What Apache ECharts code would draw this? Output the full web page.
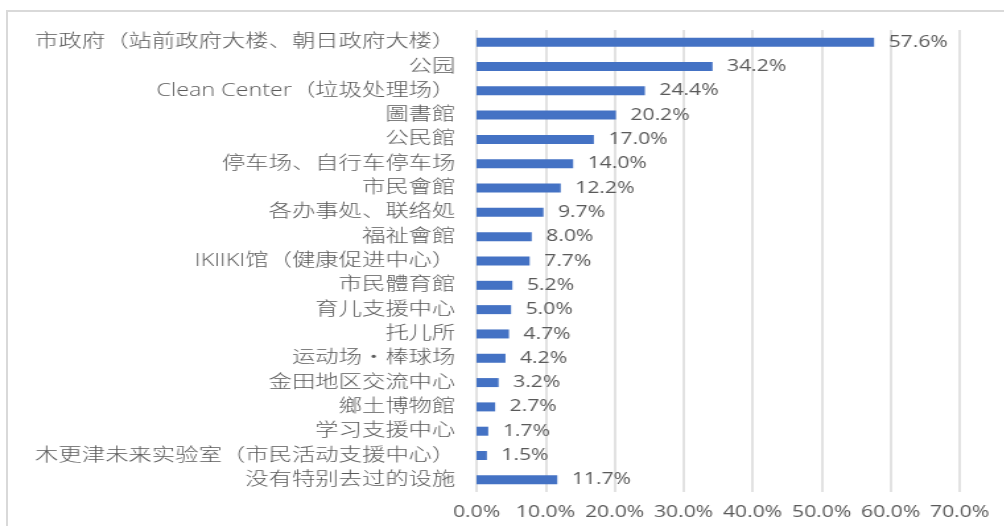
<!DOCTYPE html>
<html>
<head>
<meta charset="utf-8">
<script src="https://cdn.jsdelivr.net/npm/echarts@6/dist/echarts.min.js"></script>
<style>
  html, body { margin: 0; padding: 0; background: #fff; overflow: hidden; }
  #frame {
    position: absolute; left: 6px; top: 10px; width: 1100px; height: 600px;
    border: 2px solid #d9d9d9; box-sizing: border-box;
  }
  /* the reference is horizontally stretched, so render narrower and stretch */
  #chart {
    position: absolute; left: 0; top: 0; width: 761px; height: 526px;
    transform: scaleX(1.32); transform-origin: 0 0;
  }
</style>
</head>
<body>
<div id="frame"></div>
<div id="chart"></div>
<script>
var categories = [
  '市政府（站前政府大楼、朝日政府大楼）',
  '公园',
  'Clean Center（垃圾处理场）',
  '圖書館',
  '公民館',
  '停车场、自行车停车场',
  '市民會館',
  '各办事処、联络処',
  '福祉會館',
  'IKIIKI馆（健康促进中心）',
  '市民體育館',
  '育儿支援中心',
  '托儿所',
  '运动场・棒球场',
  '金田地区交流中心',
  '鄉土博物館',
  '学习支援中心',
  '木更津未来实验室（市民活动支援中心）',
  '没有特别去过的设施'
]
var values = [57.6, 34.2, 24.4, 20.2, 17.0, 14.0, 12.2, 9.7, 8.0, 7.7, 5.2, 5.0, 4.7, 4.2, 3.2, 2.7, 1.7, 1.5, 11.7]

var textColor = '#595959'
var font = '"Open Sans", "Noto Sans CJK SC", sans-serif'
var pct = function(v) { return Number(v).toFixed(1) + '%' }

var chart = echarts.init(document.getElementById('chart'))
chart.setOption({
  animation: false,
  grid: { left: 361, right: 34, top: 30, bottom: 34, containLabel: false },
  xAxis: {
    type: 'value',
    min: 0,
    max: 70,
    interval: 10,
    axisLine: { show: false },
    axisTick: { show: false },
    splitLine: { lineStyle: { color: '#d9d9d9', width: 1.5 } },
    axisLabel: {
      formatter: pct,
      color: textColor,
      fontSize: 16,
      fontFamily: font,
      margin: 12
    }
  },
  yAxis: {
    type: 'category',
    inverse: true,
    data: categories,
    axisLine: { show: false },
    axisTick: { show: false },
    axisLabel: {
      color: textColor,
      fontSize: 17.7,
      fontWeight: 300,
      fontFamily: font,
      margin: 16
    }
  },
  series: [
    {
      type: 'bar',
      data: values,
      barWidth: 9,
      itemStyle: { color: '#4472C4' },
      label: {
        show: true,
        position: 'right',
        distance: 11,
        formatter: function(p) { return pct(p.value) },
        color: textColor,
        fontSize: 16,
        fontFamily: font
      }
    }
  ]
})
</script>
</body>
</html>
